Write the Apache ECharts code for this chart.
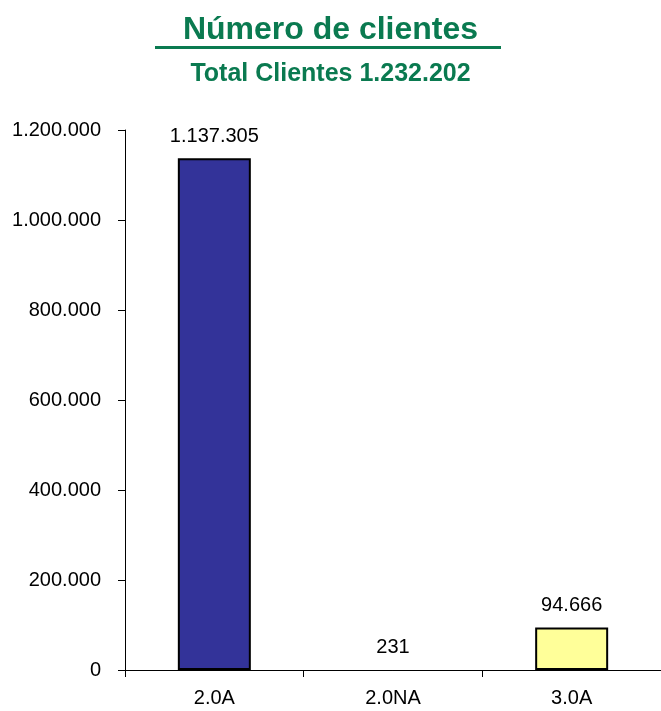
<!DOCTYPE html>
<html><head><meta charset="utf-8">
<script src="https://cdn.jsdelivr.net/npm/echarts@6/dist/echarts.min.js"></script>
<style>html,body{margin:0;padding:0;background:#fff}#c{width:661px;height:711px}</style>
</head><body><div id="c"></div>
<script>
const categories = ['2.0A', '2.0NA', '3.0A'];
const values = [1137305, 231, 94666];
const barColors = ['#333399', '#333399', '#FFFF99'];
const titleText = 'Número de clientes';
const subtitleText = 'Total Clientes 1.232.202';

function fmt(v){ return String(v).replace(/\B(?=(\d{3})+(?!\d))/g, '.'); }

const chart = echarts.init(document.getElementById('c'));
chart.setOption({
  animation: false,
  title: [{
    text: titleText, left: 'center', top: 9,
    textStyle: {fontFamily: 'Liberation Sans', fontWeight: 'bold', fontSize: 32, color: '#0A7A50'}
  }, {
    text: subtitleText, left: 'center', top: 57,
    textStyle: {fontFamily: 'Liberation Sans', fontWeight: 'bold', fontSize: 25, color: '#0A7A50'}
  }],
  graphic: [{type: 'rect', shape: {x: 155, y: 46, width: 346, height: 3}, style: {fill: '#0A7A50'}}],
  grid: {left: 125, right: 0, top: 130, bottom: 41},
  xAxis: {
    type: 'category', data: categories,
    axisLine: {lineStyle: {color: '#000', width: 1}},
    axisTick: {show: true, length: 7, lineStyle: {color: '#000'}},
    axisLabel: {fontFamily: 'Liberation Sans', fontSize: 20, color: '#000', margin: 18}
  },
  yAxis: {
    type: 'value', min: 0, max: 1200000, interval: 200000,
    splitLine: {show: false},
    axisLine: {show: true, lineStyle: {color: '#000', width: 1}},
    axisTick: {show: true, length: 7, lineStyle: {color: '#000'}},
    axisLabel: {fontFamily: 'Liberation Sans', fontSize: 20, color: '#000', margin: 24, formatter: fmt}
  },
  series: [{
    type: 'bar', barWidth: 73,
    data: values.map((v, i) => ({value: v, itemStyle: {color: barColors[i], borderColor: '#000', borderWidth: v < 1000 ? 0 : 2}})),
    label: {show: true, position: 'top', distance: 12, fontFamily: 'Liberation Sans', fontSize: 20, color: '#000', formatter: p => fmt(p.value)}
  }]
});
</script></body></html>
